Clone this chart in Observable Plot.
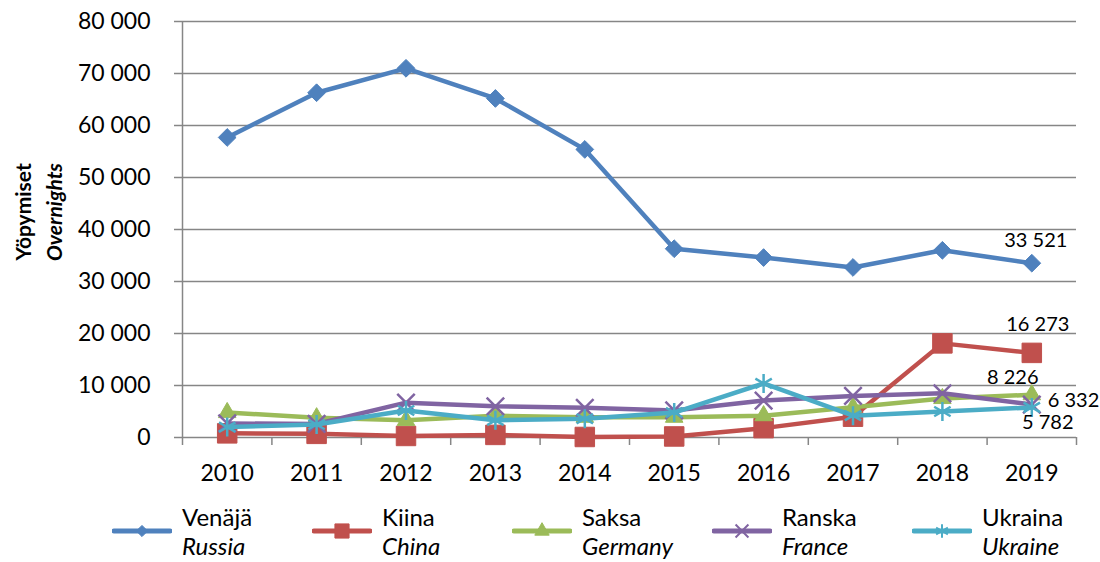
<!DOCTYPE html>
<html><head><meta charset="utf-8">
<script src="https://cdn.jsdelivr.net/npm/d3@7"></script>
<script src="https://cdn.jsdelivr.net/npm/@observablehq/plot@0.6"></script>
<style>
body{margin:0;background:#fff;font-family:Lato,sans-serif;color:#000;}
#wrap{position:relative;width:1100px;height:562px;overflow:hidden;}
#chart{position:absolute;left:0;top:0;}
#legend{position:absolute;left:0;top:497px;width:1100px;height:65px;}
.item{position:absolute;top:0;height:65px;}
.item svg{position:absolute;left:0;top:25px;}
.item .txt{position:absolute;left:70px;top:5px;font-size:24px;line-height:29px;white-space:nowrap;}
.item .en{font-style:italic;}
.ytitle{position:absolute;left:0;top:0;font-size:21px;font-weight:bold;white-space:nowrap;transform-origin:0 0;}
</style></head><body>
<div id="wrap"><div id="chart"></div><div id="legend"></div>
<div class="ytitle" id="t1">Yöpymiset</div><div class="ytitle" id="t2"><i>Overnights</i></div></div>
<script>
const years = [2010, 2011, 2012, 2013, 2014, 2015, 2016, 2017, 2018, 2019];
const russia  = [57700, 66300, 71000, 65200, 55400, 36300, 34600, 32700, 36000, 33521];
const china   = [800, 700, 300, 500, 100, 200, 1800, 4000, 18100, 16273];
const germany = [4800, 3800, 3300, 4200, 3900, 3900, 4200, 5800, 7500, 8226];
const france  = [2700, 2600, 6700, 6000, 5700, 5200, 7100, 8000, 8500, 6332];
const ukraine = [2000, 2500, 5200, 3300, 3600, 4800, 10400, 4200, 5000, 5782];
const seriesFi = ["Venäjä", "Kiina", "Saksa", "Ranska", "Ukraina"];
const seriesEn = ["Russia", "China", "Germany", "France", "Ukraine"];
const yTicks = [0, 10000, 20000, 30000, 40000, 50000, 60000, 70000, 80000];
const labelYear = 2019;

const values = [russia, china, germany, france, ukraine];
const colors = ["#4F81BD", "#C0504D", "#9BBB59", "#8064A2", "#4BACC6"];
const symbols = ["diamond2", "square", "triangle", "times", "asterisk"];
const radii = [8, 11, 6.5, 8, 9];
const filled = [true, true, true, false, false];
const labelOffsets = [[4, -23], [6, -28], [-19, -17], [16, -4], [16, 15]];
const labelAnchors = ["middle", "middle", "middle", "start", "middle"];

const fmt = d3.formatLocale({thousands: "\u00a0", grouping: [3], decimal: ","}).format(",");
const bounds = years.map(y => y - 0.5).concat([years[years.length - 1] + 0.5]);
const grey = "#868686";

const marks = [
  Plot.gridY(yTicks.filter(d => d > 0), {stroke: grey, strokeOpacity: 1, strokeWidth: 1.5}),
  Plot.ruleY([0], {stroke: grey, strokeWidth: 1.5}),
  Plot.ruleX([bounds[0]], {stroke: grey, strokeWidth: 1.5}),
  Plot.axisY(yTicks, {tickSize: 8, tickPadding: 24, tickFormat: fmt, fontSize: 23, stroke: grey, strokeWidth: 1.5, fill: "#000", label: null}),
  Plot.axisX(bounds, {tickSize: 8, tickFormat: () => "", stroke: grey, strokeWidth: 1.5, label: null}),
  Plot.axisX(years, {tickSize: 0, tickPadding: 27, tickFormat: d => String(d), fontSize: 23, fill: "#000", label: null})
];

values.forEach((vals, i) => {
  const rows = years.map((y, j) => ({year: y, value: vals[j], series: seriesEn[i]}));
  marks.push(Plot.line(rows, {x: "year", y: "value", stroke: colors[i], strokeWidth: 4.5, strokeLinejoin: "round", strokeLinecap: "round"}));
  marks.push(Plot.dot(rows, {x: "year", y: "value", symbol: symbols[i], r: radii[i],
    fill: filled[i] ? colors[i] : "none", stroke: colors[i], strokeWidth: filled[i] ? 1 : 2.5}));
});
values.forEach((vals, i) => {
  const rows = years.map((y, j) => ({year: y, value: vals[j]})).filter(d => d.year === labelYear);
  marks.push(Plot.text(rows, {x: "year", y: "value", text: d => fmt(d.value), dx: labelOffsets[i][0], dy: labelOffsets[i][1],
    textAnchor: labelAnchors[i], fontSize: 20, fill: "#000"}));
});

const chart = Plot.plot({
  width: 1100, height: 497,
  marginLeft: 182, marginRight: 24, marginTop: 21, marginBottom: 60,
  style: {fontFamily: "Lato, sans-serif", background: "#fff", color: "#000"},
  x: {domain: [bounds[0], bounds[bounds.length - 1]], axis: null},
  y: {domain: [0, 80000], axis: null},
  marks
});
document.getElementById("chart").appendChild(chart);

const legend = document.getElementById("legend");
const symMap = {diamond2: d3.symbolDiamond2, square: d3.symbolSquare, triangle: d3.symbolTriangle, times: d3.symbolTimes, asterisk: d3.symbolAsterisk};
const legendSizes = [80, 200, 90, 110, 130];
seriesFi.forEach((name, i) => {
  const item = document.createElement("div");
  item.className = "item";
  item.style.left = (112 + 200 * i) + "px";
  item.style.width = "195px";
  const svg = d3.create("svg").attr("width", 60).attr("height", 18);
  svg.append("line").attr("x1", 2).attr("x2", 58).attr("y1", 9).attr("y2", 9)
    .attr("stroke", colors[i]).attr("stroke-width", 5).attr("stroke-linecap", "round");
  svg.append("path").attr("transform", "translate(30,9)")
    .attr("d", d3.symbol(symMap[symbols[i]], legendSizes[i])())
    .attr("fill", filled[i] ? colors[i] : "none").attr("stroke", colors[i]).attr("stroke-width", filled[i] ? 1 : 2);
  item.appendChild(svg.node());
  const txt = document.createElement("div");
  txt.className = "txt";
  txt.innerHTML = `<div>${name}</div><div class="en">${seriesEn[i]}</div>`;
  item.appendChild(txt);
  legend.appendChild(item);
});

// rotated y-axis title, centred vertically on ~y=212
function placeTitle(id, cx) {
  const el = document.getElementById(id);
  const w = el.offsetWidth, h = el.offsetHeight;
  el.style.transform = `translate(${cx - h / 2}px, ${212 + w / 2}px) rotate(-90deg)`;
}
placeTitle("t1", 22);
placeTitle("t2", 53);
</script>
</body></html>
